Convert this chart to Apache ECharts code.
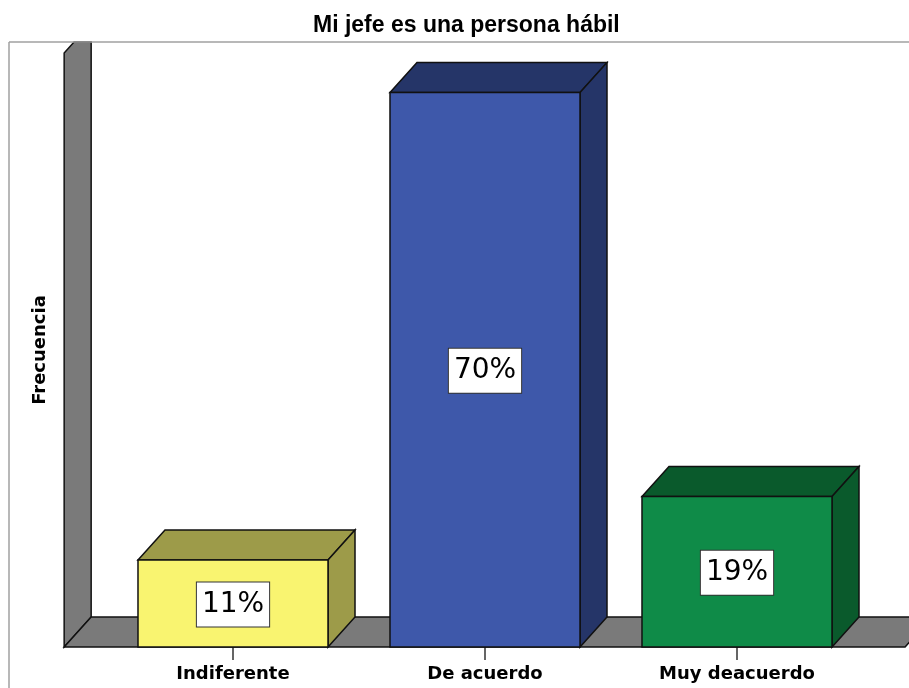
<!DOCTYPE html>
<html>
<head>
<meta charset="utf-8">
<script src="https://cdn.jsdelivr.net/npm/echarts@6/dist/echarts.min.js"></script>
<style>
  html, body { margin: 0; padding: 0; background: #fff; }
  #main { width: 909px; height: 688px; }
</style>
</head>
<body>
<div id="main"></div>
<script>
var categorias = ['Indiferente', 'De acuerdo', 'Muy deacuerdo'];
var porcentajes = [11, 70, 19];
var etiquetas = ['11%', '70%', '19%'];

var caras = ['#f9f470', '#3e58aa', '#0f8b48'];
var lados = ['#9d9b49', '#253568', '#0a5a2c'];

// profundidad del efecto 3D
var DX = 27, DY = -30;
var FRAME_TOP = 42;

var myChart = echarts.init(document.getElementById('main'));

function renderFondo(params, api) {
    var cs = params.coordSys;
    var band = api.size([1, 0])[0];
    var L = cs.x - band * 0.17;
    var R = cs.x + cs.width + band * 0.167;
    var B = cs.y + cs.height;
    var T = cs.y;
    var cut = L + (T - FRAME_TOP) * (DX / -DY);
    var st = { fill: '#7a7a7a', stroke: '#111', lineWidth: 1.5 };
    return {
        type: 'group',
        children: [
            {
                type: 'polygon',
                shape: { points: [[L, B], [L, T], [cut, FRAME_TOP], [L + DX, FRAME_TOP], [L + DX, B + DY]] },
                style: st
            },
            {
                type: 'polygon',
                shape: { points: [[L, B], [R, B], [R + DX, B + DY], [L + DX, B + DY]] },
                style: st
            }
        ]
    };
}

function renderBarra(params, api) {
    var i = api.value(0);
    var top = api.coord([i, api.value(1)]);
    var base = api.coord([i, 0]);
    var w = api.size([1, 0])[0] * 0.754;
    var x0 = top[0] - w / 2, x1 = top[0] + w / 2;
    var y0 = top[1], y1 = base[1];
    var borde = { stroke: '#111', lineWidth: 1.5 };
    return {
        type: 'group',
        children: [
            {
                type: 'polygon',
                shape: { points: [[x0, y0], [x0 + DX, y0 + DY], [x1 + DX, y0 + DY], [x1, y0]] },
                style: Object.assign({ fill: lados[i] }, borde)
            },
            {
                type: 'polygon',
                shape: { points: [[x1, y0], [x1 + DX, y0 + DY], [x1 + DX, y1 + DY], [x1, y1]] },
                style: Object.assign({ fill: lados[i] }, borde)
            },
            {
                type: 'rect',
                shape: { x: x0, y: y0, width: w, height: y1 - y0 },
                style: Object.assign({ fill: caras[i] }, borde)
            },
            {
                type: 'text',
                x: top[0],
                y: (y0 + y1) / 2 + 1,
                style: {
                    text: etiquetas[i],
                    align: 'center',
                    verticalAlign: 'middle',
                    font: '28px "DejaVu Sans"',
                    fill: '#000',
                    backgroundColor: '#fff',
                    borderColor: '#333',
                    borderWidth: 1,
                    padding: [9, 5, 7, 5]
                }
            }
        ]
    };
}

var option = {
    backgroundColor: '#fff',
    animation: false,
    title: {
        text: 'Mi jefe es una persona hábil',
        left: 308,
        top: 9,
        textStyle: { fontFamily: 'Liberation Sans', fontWeight: 'bold', fontSize: 23, color: '#000' }
    },
    graphic: [
        { type: 'line', shape: { x1: 9, y1: FRAME_TOP, x2: 909, y2: FRAME_TOP }, style: { stroke: '#a0a0a0', lineWidth: 1.5 }, z: 100 },
        { type: 'line', shape: { x1: 9, y1: FRAME_TOP, x2: 9, y2: 688 }, style: { stroke: '#a0a0a0', lineWidth: 1.5 }, z: 100 }
    ],
    grid: { left: 107, right: 46, top: 53, bottom: 41 },
    xAxis: {
        type: 'category',
        data: categorias,
        axisLine: { show: false },
        axisTick: { show: true, alignWithLabel: true, length: 13, lineStyle: { color: '#333', width: 1.5 } },
        axisLabel: { margin: 18, fontFamily: 'DejaVu Sans', fontWeight: 'bold', fontSize: 18, color: '#000' }
    },
    yAxis: {
        type: 'value',
        min: 0,
        max: 75,
        name: 'Frecuencia',
        nameLocation: 'middle',
        nameRotate: 90,
        nameGap: 58,
        nameTextStyle: { fontFamily: 'DejaVu Sans', fontWeight: 'bold', fontSize: 18, color: '#000' },
        axisLine: { show: false },
        axisTick: { show: false },
        axisLabel: { show: false },
        splitLine: { show: false }
    },
    series: [
        {
            type: 'custom',
            renderItem: renderFondo,
            data: [[0, 0]],
            z: 1,
            silent: true
        },
        {
            type: 'custom',
            renderItem: renderBarra,
            data: porcentajes.map(function (v, i) { return [i, v]; }),
            z: 2
        }
    ]
};

myChart.setOption(option);
</script>
</body>
</html>
